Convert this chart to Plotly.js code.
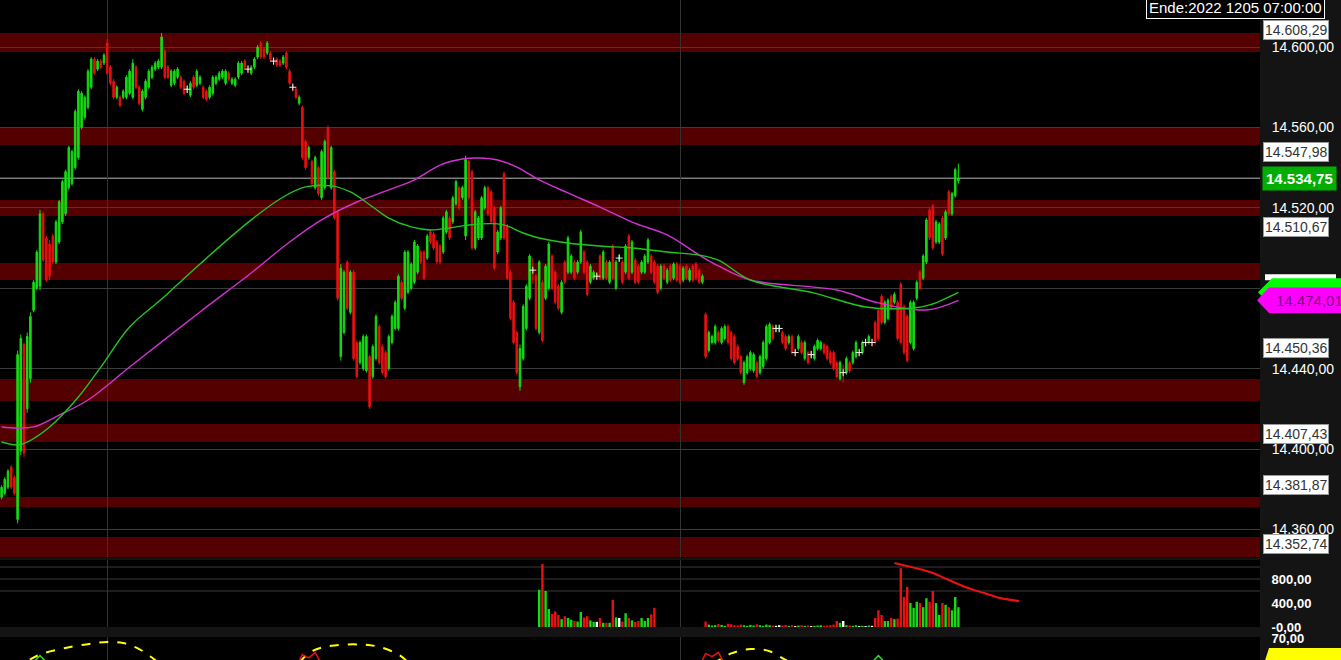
<!DOCTYPE html>
<html><head><meta charset="utf-8">
<script src="https://cdn.plot.ly/plotly-3.0.1.min.js"></script>
<style>html,body{margin:0;padding:0;background:#141414;overflow:hidden}#chart{width:1341px;height:660px}</style>
</head><body><div id="chart"></div>
<script>
// ---- price bars (one bar per index) ----
const barOpen = [
14376,14378,14381,14391,14386,14365,14399,14452,14420,14435,
14469,14480,14481,14517,14505,14502,14506,14493,14503,14513,
14517,14530,14532,14540,14545,14560,14565,14570,14580,14594,
14589,14593,14592,14602,14590,14583,14575,14575,14575,14575,
14577,14575,14590,14580,14569,14575,14580,14585,14589,14590,
14590,14598,14590,14581,14582,14585,14585,14583,14579,14576,
14585,14581,14582,14580,14578,14575,14577,14582,14584,14585,
14582,14587,14582,14581,14585,14587,14593,14589,14587,14590,
14595,14602,14599,14597,14597,14593,14594,14593,14592,14597,
14588,14580,14579,14572,14570,14553,14545,14543,14530,14540,
14525,14530,14560,14530,14538,14518,14446,14458,14493,14468,
14488,14453,14443,14440,14439,14446,14436,14445,14461,14451,
14448,14440,14453,14460,14460,14483,14470,14478,14480,14483,
14488,14498,14498,14495,14508,14507,14503,14501,14498,14508,
14515,14513,14522,14530,14525,14506,14543,14538,14500,14505,
14505,14520,14530,14528,14520,14498,14505,14537,14511,14488,
14473,14458,14431,14445,14460,14475,14489,14486,14458,14483,
14475,14480,14496,14488,14481,14468,14493,14488,14488,14493,
14488,14493,14498,14493,14483,14485,14486,14496,14485,14493,
14483,14501,14480,14495,14493,14488,14506,14488,14494,14491,
14488,14488,14493,14496,14493,14491,14480,14491,14483,14491,
14485,14492,14491,14484,14491,14484,14491,14492,14489,14483,
14467,14449,14453,14453,14458,14453,14455,14461,14458,14456,
14451,14446,14433,14438,14440,14439,14443,14438,14441,14445,
14453,14461,14460,14460,14458,14456,14453,14456,14448,14450,
14453,14445,14448,14447,14445,14450,14450,14452,14451,14448,
14448,14443,14435,14438,14438,14443,14443,14446,14448,14448,
14453,14453,14453,14463,14469,14476,14463,14465,14476,14473,
14473,14482,14471,14466,14453,14450,14475,14488,14485,14493,
14519,14521,14503,14503,14515,14505,14528,14517,14526,14533.5];
const barHigh = [
14382,14386,14390,14392,14387,14449,14457,14453,14458,14468,
14484,14499,14519,14518,14506,14504,14507,14514,14524,14534,
14539,14551,14549,14569,14579,14578,14576,14589,14595,14595,
14594,14594,14597,14604,14591,14584,14581,14576,14579,14586,
14589,14594,14591,14581,14579,14584,14589,14591,14593,14594,
14607,14599,14591,14589,14589,14590,14586,14584,14581,14583,
14586,14589,14586,14581,14579,14581,14586,14586,14588,14589,
14589,14588,14585,14585,14593,14593,14594,14591,14591,14595,
14601,14603,14600,14603,14598,14595,14595,14594,14596,14598,
14589,14582,14580,14576,14571,14554,14551,14544,14546,14541,
14549,14554,14561,14551,14539,14519,14492,14489,14494,14489,
14489,14454,14454,14457,14457,14447,14452,14467,14462,14452,
14449,14457,14467,14474,14487,14484,14499,14499,14493,14504,
14502,14499,14499,14507,14509,14508,14504,14502,14516,14519,
14516,14526,14534,14531,14531,14546,14544,14539,14519,14516,
14526,14531,14531,14529,14521,14509,14521,14538,14512,14489,
14474,14459,14452,14472,14482,14497,14495,14487,14494,14484,
14492,14503,14497,14489,14482,14484,14494,14506,14497,14494,
14494,14509,14499,14494,14492,14489,14488,14497,14499,14494,
14494,14502,14494,14497,14494,14502,14507,14504,14495,14492,
14494,14497,14505,14497,14494,14492,14492,14492,14490,14492,
14493,14493,14492,14491,14492,14490,14492,14493,14490,14487,
14468,14459,14457,14462,14459,14461,14462,14462,14459,14457,
14452,14447,14444,14447,14449,14448,14444,14447,14454,14462,
14463,14462,14462,14462,14459,14457,14457,14457,14450,14457,
14454,14454,14449,14449,14452,14455,14454,14453,14452,14449,
14449,14444,14444,14442,14446,14444,14449,14454,14450,14454,
14455,14457,14455,14464,14470,14477,14474,14475,14477,14478,
14474,14483,14472,14467,14474,14474,14484,14489,14497,14515,
14520,14522,14514,14513,14516,14519,14529,14528,14540,14542];
const barLow = [
14375,14377,14380,14380,14377,14363,14397,14396,14418,14433,
14468,14479,14479,14493,14483,14484,14492,14492,14502,14512,
14516,14529,14531,14539,14544,14559,14564,14569,14579,14586,
14588,14589,14591,14586,14581,14574,14574,14570,14574,14574,
14576,14574,14579,14571,14568,14574,14579,14584,14588,14589,
14589,14584,14584,14580,14581,14584,14579,14576,14577,14575,
14579,14580,14581,14574,14573,14574,14576,14581,14583,14584,
14581,14583,14581,14580,14584,14586,14589,14587,14586,14589,
14594,14594,14594,14596,14593,14591,14590,14590,14591,14589,
14581,14578,14574,14571,14544,14539,14544,14531,14529,14526,
14524,14529,14534,14529,14514,14474,14444,14457,14469,14467,
14444,14435,14442,14439,14438,14420,14435,14444,14442,14437,
14435,14439,14452,14459,14459,14474,14469,14477,14479,14482,
14487,14492,14484,14494,14502,14499,14492,14492,14497,14507,
14504,14512,14521,14519,14524,14504,14524,14499,14499,14504,
14504,14519,14516,14512,14489,14497,14504,14504,14484,14464,
14452,14437,14429,14444,14459,14474,14482,14459,14457,14453,
14474,14479,14479,14472,14469,14467,14482,14487,14487,14484,
14487,14492,14487,14476,14482,14484,14484,14484,14484,14484,
14482,14484,14479,14493,14482,14487,14484,14487,14482,14482,
14487,14487,14492,14487,14482,14477,14479,14484,14482,14483,
14484,14483,14482,14483,14484,14483,14483,14484,14482,14482,
14445,14448,14452,14452,14453,14452,14454,14452,14444,14442,
14444,14437,14432,14437,14439,14438,14435,14437,14440,14444,
14452,14454,14458,14458,14452,14449,14452,14447,14446,14449,
14447,14444,14442,14445,14444,14449,14449,14447,14444,14442,
14439,14435,14434,14433,14437,14438,14442,14445,14446,14447,
14451,14452,14451,14452,14454,14462,14462,14464,14469,14472,
14454,14452,14447,14443,14452,14449,14474,14479,14484,14492,
14504,14499,14502,14502,14496,14504,14516,14516,14525,14532];
const barClose = [
14381,14385,14389,14381,14378,14447,14455,14398,14456,14466,
14483,14498,14517,14494,14484,14486,14493,14513,14523,14533,
14538,14550,14548,14568,14578,14577,14575,14588,14594,14587,
14593,14590,14596,14587,14582,14575,14580,14571,14578,14585,
14588,14592,14580,14572,14578,14583,14588,14590,14592,14593,
14605,14585,14585,14588,14588,14589,14580,14577,14579,14582,
14580,14588,14585,14575,14574,14580,14585,14585,14587,14588,
14588,14584,14584,14584,14592,14592,14590,14589,14590,14594,
14600,14595,14595,14602,14594,14593,14591,14591,14595,14590,
14582,14580,14575,14575,14545,14540,14550,14532,14545,14527,
14548,14553,14535,14550,14515,14475,14490,14488,14470,14488,
14445,14436,14453,14456,14456,14421,14451,14466,14443,14438,
14436,14456,14466,14473,14486,14475,14498,14498,14492,14503,
14501,14493,14485,14506,14503,14500,14493,14493,14515,14518,
14505,14525,14533,14520,14530,14544,14525,14500,14518,14515,
14525,14530,14517,14513,14490,14508,14520,14505,14485,14465,
14453,14438,14450,14471,14481,14496,14489,14460,14493,14454,
14491,14502,14480,14473,14470,14483,14483,14505,14496,14485,
14493,14508,14488,14477,14491,14488,14486,14485,14498,14485,
14493,14485,14493,14495,14483,14501,14485,14503,14483,14483,
14493,14496,14504,14488,14483,14478,14491,14485,14489,14484,
14492,14484,14483,14490,14485,14489,14484,14485,14483,14486,
14446,14458,14456,14461,14454,14460,14461,14453,14445,14443,
14445,14438,14443,14446,14448,14447,14436,14446,14453,14461,
14462,14455,14460,14460,14453,14450,14456,14448,14448,14456,
14448,14453,14443,14447,14451,14454,14453,14448,14445,14443,
14440,14436,14443,14438,14445,14439,14448,14453,14448,14453,
14453,14456,14453,14453,14455,14463,14473,14474,14470,14477,
14455,14453,14448,14444,14473,14473,14483,14480,14496,14514,
14505,14500,14513,14512,14497,14518,14517,14527,14539,14534.75];
const dojiIdx = [58,77,85,91,166,186,193,242,243,248,253,263,268,270,272];

// ---- moving averages (bar index, value) ----
const maFastIdx = [0,5,8,15,24,31,40,50,62,78,88,95,103,109,116,121,128,134,140,146,155,158,163,168,177,187,197,208,218,224,234,254,270,285,290,299];
const maFastVal = [14403.5,14402.0,14403.5,14411.0,14425.9,14440.8,14460.7,14474.6,14492.1,14514.0,14525.4,14530.4,14530.9,14527.9,14520.4,14514.9,14510.5,14509.0,14510.0,14511.5,14512.0,14511.0,14507.5,14505.0,14502.5,14501.0,14500.0,14498.0,14496.5,14494.0,14484.1,14477.6,14470.7,14470.2,14471.7,14478.0];
const maSlowIdx = [0,5,10,18,27,40,62,78,90,100,111,121,129,137,144,149,155,161,168,177,187,197,208,218,224,234,261,274,289,299];
const maSlowVal = [14411.0,14410.5,14411.0,14416.9,14424.4,14440.8,14468.2,14487.6,14503.0,14514.0,14522.9,14528.9,14533.9,14541.3,14544.3,14544.8,14543.8,14540.3,14533.9,14527.4,14520.4,14512.9,14506.5,14496.5,14491.1,14484.1,14479.1,14472.7,14469.2,14474.01];

// ---- volume (starts at bar volStart; null = no volume) ----
const volStart = 168;
const volume = [
620,1050,600,300,220,260,200,130,180,150,
120,100,90,250,160,180,110,85,85,150,
70,70,70,450,160,150,90,230,150,110,
85,100,150,100,150,210,320,
null,null,null,null,null,null,null,null,null,null,null,null,null,null,null,
90,40,25,30,50,35,20,55,45,30,
25,40,30,20,35,25,45,30,20,40,
30,25,20,30,25,35,20,30,15,25,
30,20,25,15,20,25,30,20,25,30,
40,100,70,100,30,25,20,30,15,20,
15,25,20,150,280,200,100,100,150,130,
140,980,500,670,400,320,420,400,330,480,
420,600,400,200,400,370,330,280,500,330];
const volMaIdx = [279,285,291,296,302,307,312,318];
const volMaVal = [1067,990,900,783,650,567,483,433];

// ---- oscillator ----
const oscIdx = [0,6,12,20,28,33,38,43,48,52,70,90,92,97,103,112,118,124,128,132,180,218,222,228,234,240,245,249,260,299];
const oscVal = [30,45,55,61,65,66.5,65.5,60,50,42,25,40,45,58,63,64.2,62,55,46,40,20,40,46,56,60,58,50,45,30,20];
const oscRedIdx = [92,94,96,98,100,null,218,220,222,224,226];
const oscRedVal = [44,55,52,57,46,null,44,56,53,57,46];
const oscGreenIdx = [9,12,15,null,271,274,277];
const oscGreenVal = [45,54,45,null,45,54,45];
const oscLabel = 66.74;

// ---- levels / bands / ticks ----
const bandLo = [14597.5,14551.3,14515.9,14484.1,14423.9,14403.5,14371.2,14346.3];
const bandHi = [14607.0,14560.2,14523.9,14492.6,14434.8,14412.5,14376.1,14356.2];
const levelLabels = [14608.29,14547.98,14510.67,14450.36,14407.43,14381.87,14352.74];
const priceTicks = [14360,14400,14440,14480,14520,14560,14600];
const volTicks = [0,400,800];
const volTickText = ['-0,00','400,00','800,00'];
const volGrid = [600,800,1000];
const oscTicks = [70];
const oscTickText = ['70,00'];
const daySeps = [33,212];
const endText = 'Ende:2022 1205 07:00:00';

// ---- build ----
const GREEN = '#14dc14', RED = '#e81010';
const idx = barClose.map((_, i) => i);
const lastClose = barClose[barClose.length - 1];
const fastLast = maFastVal[maFastVal.length - 1];
const slowLast = maSlowVal[maSlowVal.length - 1];
function fmt(v){ const s = v.toFixed(2).split('.'); return s[0].replace(/\B(?=(\d{3})+(?!\d))/g,'.') + ',' + s[1]; }
const PW = 1260;
const px = p => p / PW;

const volX = volume.map((_, k) => volStart + k);
const volColors = volX.map(i => barClose[i] > barOpen[i] ? GREEN : (barClose[i] < barOpen[i] ? RED : '#ffffff'));

const traces = [
  {type:'candlestick', x: idx, open: barOpen, high: barHigh, low: barLow, close: barClose,
   xaxis:'x', yaxis:'y', hoverinfo:'none', showlegend:false, whiskerwidth:0,
   increasing:{line:{color:GREEN, width:1}, fillcolor:GREEN},
   decreasing:{line:{color:RED, width:1}, fillcolor:RED}},
  {type:'scatter', mode:'markers', x: dojiIdx, y: dojiIdx.map(i => barClose[i]), xaxis:'x', yaxis:'y',
   marker:{symbol:'cross-thin', size:5, color:'#ffffff', line:{color:'#f0f0f0', width:1}}, hoverinfo:'skip'},
  {type:'scatter', mode:'lines', x: maSlowIdx, y: maSlowVal, xaxis:'x', yaxis:'y',
   line:{color:'#d232d2', width:1.4, shape:'spline'}, hoverinfo:'skip'},
  {type:'scatter', mode:'lines', x: maFastIdx, y: maFastVal, xaxis:'x', yaxis:'y',
   line:{color:'#22c422', width:1.4, shape:'spline'}, hoverinfo:'skip'},
  {type:'bar', x: volX, y: volume, xaxis:'x', yaxis:'y2', marker:{color: volColors, line:{width:0}}, hoverinfo:'skip'},
  {type:'scatter', mode:'lines', x: volMaIdx, y: volMaVal, xaxis:'x', yaxis:'y2',
   line:{color:'#ee1111', width:2, shape:'spline'}, hoverinfo:'skip'},
  {type:'scatter', mode:'lines', x: oscIdx, y: oscVal, xaxis:'x', yaxis:'y3',
   line:{color:'#ffff00', width:2, dash:'dash', shape:'spline'}, hoverinfo:'skip'},
  {type:'scatter', mode:'lines', x: oscRedIdx, y: oscRedVal, xaxis:'x', yaxis:'y3',
   line:{color:'#ee1111', width:1.5}, hoverinfo:'skip'},
  {type:'scatter', mode:'lines', x: oscGreenIdx, y: oscGreenVal, xaxis:'x', yaxis:'y3',
   line:{color:'#22dd22', width:1.5}, hoverinfo:'skip'}
];

const shapes = [];
bandLo.forEach((lo, k) => shapes.push({type:'rect', xref:'paper', x0:0, x1:1, yref:'y', y0:lo, y1:bandHi[k],
  fillcolor:'#540000', line:{width:0}, layer:'below'}));
shapes.push({type:'line', xref:'paper', x0:0, x1:1, yref:'y', y0:lastClose, y1:lastClose,
  line:{color:'#b8b8b8', width:1}, layer:'below'});
volGrid.forEach(v => shapes.push({type:'line', xref:'paper', x0:0, x1:1, yref:'y2', y0:v, y1:v,
  line:{color:'#3a3a3a', width:1}, layer:'below'}));
// right-side MA markers
shapes.push({type:'rect', xref:'paper', x0:px(1265), x1:px(1336), yref:'y', y0:fastLast+6, y1:fastLast+9,
  fillcolor:'#ffffff', line:{width:0}, layer:'above'});
shapes.push({type:'path', xref:'paper', yref:'y', layer:'above', fillcolor:'#00ff00', line:{width:0},
  path:`M ${px(1258)},${fastLast} L ${px(1272)},${fastLast+7} L ${px(1345)},${fastLast+7} L ${px(1345)},${fastLast-7} L ${px(1272)},${fastLast-7} Z`});
shapes.push({type:'path', xref:'paper', yref:'y', layer:'above', fillcolor:'#ff00ff', line:{width:0},
  path:`M ${px(1257)},${slowLast} L ${px(1269)},${slowLast+6.3} L ${px(1345)},${slowLast+6.3} L ${px(1345)},${slowLast-6.3} L ${px(1269)},${slowLast-6.3} Z`});
shapes.push({type:'path', xref:'paper', yref:'paper', layer:'above', fillcolor:'#ffff00', line:{width:0},
  path:`M ${px(1261)},-0.02 L ${px(1269)},0.0182 L ${px(1345)},0.0182 L ${px(1345)},-0.02 Z`});

const annotations = [];
levelLabels.forEach(v => annotations.push({xref:'paper', x:px(1263), xanchor:'left', yref:'y', y:v, yanchor:'middle',
  text: fmt(v), showarrow:false, bgcolor:'#ffffff', bordercolor:'#9a9a9a', borderwidth:1, borderpad:1,
  font:{size:14, color:'#333333', family:'Arial, "Liberation Sans", sans-serif'}}));
annotations.push({xref:'paper', x:px(1262), xanchor:'left', yref:'y', y:lastClose, yanchor:'middle',
  text:'<b>' + fmt(lastClose) + '</b>', showarrow:false, bgcolor:'#00ad00', borderpad:3,
  font:{size:15, color:'#ffffff', family:'Arial, "Liberation Sans", sans-serif'}});
annotations.push({xref:'paper', x:px(1274), xanchor:'left', yref:'y', y:slowLast, yanchor:'middle',
  text: fmt(slowLast), showarrow:false,
  font:{size:15, color:'#7a007a', family:'Arial, "Liberation Sans", sans-serif'}});
annotations.push({xref:'paper', x:px(1274), xanchor:'left', yref:'paper', y:-0.012, yanchor:'middle',
  text:'<b>' + fmt(oscLabel) + '</b>', showarrow:false,
  font:{size:15, color:'#000000', family:'Arial, "Liberation Sans", sans-serif'}});
annotations.push({xref:'paper', x:px(1146), xanchor:'left', yref:'paper', y:1 - 19/660, yanchor:'bottom',
  text: endText, showarrow:false, bgcolor:'#000000', bordercolor:'#ffffff', borderwidth:1, borderpad:2,
  font:{size:15, color:'#ffffff', family:'Arial, "Liberation Sans", sans-serif'}});

const FONT = 'Arial, "Liberation Sans", sans-serif';
const layout = {
  width:1341, height:660, margin:{l:0, r:81, t:0, b:0},
  paper_bgcolor:'#141414', plot_bgcolor:'#000000', separators:',.', showlegend:false,
  font:{family:FONT, color:'#ffffff'}, bargap:0.25, hovermode:false,
  xaxis:{range:[-0.5, 393.25], showticklabels:false, tickvals:daySeps, ticks:'', showgrid:true,
    gridcolor:'#333333', gridwidth:1, zeroline:false, showline:false, rangeslider:{visible:false}, fixedrange:true},
  yaxis:{domain:[0.15455, 1], range:[14345.8, 14623.4], side:'right', tickvals:priceTicks, tickformat:',.2f',
    ticks:'outside', ticklen:8, tickcolor:'rgba(0,0,0,0)', tickfont:{size:14, color:'#ffffff', family:FONT},
    showgrid:true, gridcolor:'#3c3c3c', gridwidth:1, zeroline:false, showline:false, fixedrange:true},
  yaxis2:{domain:[0.05, 0.15152], range:[0, 1117], side:'right', tickvals:volTicks, ticktext:volTickText,
    ticks:'outside', ticklen:8, tickcolor:'rgba(0,0,0,0)', tickfont:{size:13, color:'#ffffff', family:FONT, weight:'bold'},
    showgrid:false, zeroline:false, showline:false, fixedrange:true},
  yaxis3:{domain:[0, 0.0348], range:[50, 71], side:'right', tickvals:oscTicks, ticktext:oscTickText,
    ticks:'outside', ticklen:8, tickcolor:'rgba(0,0,0,0)', tickfont:{size:13, color:'#ffffff', family:FONT, weight:'bold'},
    showgrid:false, zeroline:false, showline:false, fixedrange:true},
  shapes: shapes, annotations: annotations
};
Plotly.newPlot('chart', traces, layout, {staticPlot:true, displayModeBar:false});
</script>
</body></html>
